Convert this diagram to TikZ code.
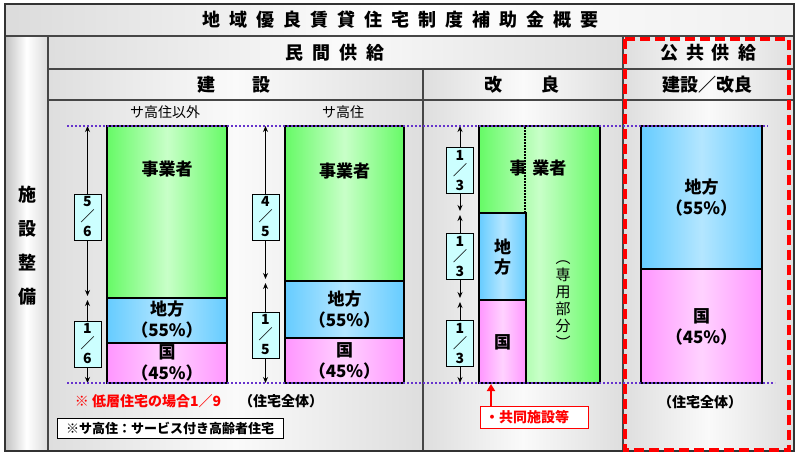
\documentclass[tikz,border=0pt]{standalone}
\usepackage{fontspec}
\setmainfont{Noto Sans CJK JP}
\usetikzlibrary{arrows.meta}
\definecolor{gEdge}{RGB}{102,250,102}
\definecolor{gMid}{RGB}{200,255,200}
\definecolor{bEdge}{RGB}{102,204,255}
\definecolor{bMid}{RGB}{180,230,255}
\definecolor{pEdge}{RGB}{255,150,255}
\definecolor{pMid}{RGB}{255,210,255}
\definecolor{fracFill}{RGB}{204,255,255}
\definecolor{dotPurple}{RGB}{102,51,204}
\definecolor{frameGray}{RGB}{70,70,70}
\definecolor{noteRed}{RGB}{255,0,0}
\newcommand\jfs[1]{\fontsize{#1}{#1}\selectfont}
\makeatletter
\newcommand\spreadtxt[2]{\def\sp@gap{#1}\@tfor\sp@c:=#2\do{\sp@c\hspace{\sp@gap}}\unskip}
\makeatother
\tikzset{
  gridline/.style={draw=frameGray, line width=1.3pt},
  frameline/.style={draw=black!80, line width=1.8pt},
  barbox/.style={draw=black, line width=1.8pt},
  greenbar/.style={left color=gEdge, right color=gEdge, middle color=gMid},
  bluebar/.style={left color=bEdge, right color=bEdge, middle color=bMid},
  pinkbar/.style={left color=pEdge, right color=pEdge, middle color=pMid},
  cellshade/.style={left color=black!13, right color=black!13, middle color=black!2},
  frac/.style={draw=black, line width=0.9pt, fill=fracFill, minimum width=27pt, minimum height=46pt, inner sep=0pt, align=center, font=\fontsize{14}{15}\selectfont\bfseries},
  dimarrow/.style={{Stealth[length=6pt,width=5pt]}-{Stealth[length=6pt,width=5pt]}, line width=1pt},
  pline/.style={dotPurple, line width=2pt, dash pattern=on 2pt off 2pt},
  hdr/.style={font=\jfs{18}\bfseries, inner sep=0pt},
  barlabel/.style={font=\fontsize{17}{21}\selectfont\bfseries, align=center, inner sep=0pt},
  sublabel/.style={font=\jfs{14}, inner sep=0pt},
}
\begin{document}
\begin{tikzpicture}[x=1pt,y=-1pt]
\useasboundingbox (0,0) rectangle (800,458);
\fill[white] (0,0) rectangle (800,458);
% backgrounds
\shade[left color=black!14, right color=black!6, middle color=white] (5,4) rectangle (794,36);
\shade[left color=black!24, right color=black!14, middle color=white] (5,36) rectangle (48,451);
\shade[cellshade] (48,36) rectangle (623,69);
\shade[cellshade] (623,36) rectangle (794,69);
\shade[cellshade] (48,69) rectangle (423,100);
\shade[cellshade] (423,69) rectangle (623,100);
\shade[cellshade] (623,69) rectangle (794,100);
\shade[cellshade] (48,100) rectangle (423,451);
\shade[cellshade] (423,100) rectangle (623,451);
\shade[cellshade] (623,100) rectangle (794,451);
% grid
\draw[gridline] (5,36) -- (794,36);
\draw[gridline] (48,69) -- (794,69);
\draw[gridline] (48,100) -- (794,100);
\draw[gridline] (48,36) -- (48,451);
\draw[gridline] (623,36) -- (623,451);
\draw[gridline] (423,69) -- (423,451);
\draw[frameline] (5,4) rectangle (794,451);
% header texts
\node[hdr] (title) at (400,20) {\spreadtxt{9pt}{地域優良賃貸住宅制度補助金概要}};
\node[hdr] (minkan) at (335,53) {\spreadtxt{9pt}{民間供給}};
\node[hdr] (kokyo) at (708,53) {\spreadtxt{8pt}{公共供給}};
\node[hdr] (kensetsu) at (234,85) {建\hspace{37pt}設};
\node[hdr] (kairyo) at (522,85) {改\hspace{39pt}良};
\node[hdr] (kk) at (707,85) {建設／改良};
\node[sublabel] (sub1) at (165,112) {サ高住以外};
\node[sublabel] (sub2) at (343,112) {サ高住};
\node[font=\fontsize{18}{34}\selectfont\bfseries, align=center, inner sep=0pt] (side) at (27,246) {施\\設\\整\\備};
% bar 1
\path[barbox, greenbar] (107,126) rectangle (227,298);
\path[barbox, bluebar] (107,298) rectangle (227,343);
\path[barbox, pinkbar] (107,343) rectangle (227,383);
\node[barlabel] (b1a) at (167,169) {事業者};
\node[barlabel] (b1b) at (167,320) {地方\\（55\%）};
\node[barlabel] (b1c) at (167,363) {国\\（45\%）};
% bar 2
\path[barbox, greenbar] (285,126) rectangle (404,281);
\path[barbox, bluebar] (285,281) rectangle (404,338);
\path[barbox, pinkbar] (285,338) rectangle (404,383);
\node[barlabel] (b2a) at (344.5,171) {事業者};
\node[barlabel] (b2b) at (344.5,309.5) {地方\\（55\%）};
\node[barlabel] (b2c) at (344.5,361) {国\\（45\%）};
% bar 3
\path[barbox, greenbar] (479,126) rectangle (600,383);
\path[barbox, bluebar] (479,213) rectangle (526,300);
\path[barbox, pinkbar] (479,300) rectangle (526,383);
\node[barlabel] (b3a) at (538,168) {事\hspace{6pt}業者};
\draw[black, line width=1.2pt, dash pattern=on 1.5pt off 1.5pt] (525,127) -- (525,213);
\node[barlabel, font=\fontsize{17}{20}\selectfont\bfseries] (b3b) at (502.5,257) {地\\方};
\node[barlabel] (b3c) at (502.5,342) {国};
\node[font=\fontsize{15}{17}\selectfont, align=center, inner sep=0pt] (b3d) at (563,305) {︵\\専\\用\\部\\分\\︶};
% bar 4
\path[barbox, bluebar] (641,126) rectangle (762,269);
\path[barbox, pinkbar] (641,269) rectangle (762,383);
\node[barlabel] (b4a) at (701.5,198) {地方\\（55\%）};
\node[barlabel] (b4b) at (701.5,327) {国\\（45\%）};
% dimension arrows
\coordinate (d1t) at (87.5,126); \coordinate (d1m) at (87.5,298); \coordinate (d1b) at (87.5,383);
\draw[dimarrow] (d1t) -- ([yshift=2pt]d1m);
\draw[dimarrow] ([yshift=-2pt]d1m) -- (d1b);
\node[frac] (f1a) at (87.5,217) {5\\／\\6};
\node[frac] (f1b) at (87.5,344) {1\\／\\6};
\coordinate (d2t) at (265.5,126); \coordinate (d2m) at (265.5,281); \coordinate (d2b) at (265.5,383);
\draw[dimarrow] (d2t) -- ([yshift=2pt]d2m);
\draw[dimarrow] ([yshift=-2pt]d2m) -- (d2b);
\node[frac] (f2a) at (265.5,217) {4\\／\\5};
\node[frac] (f2b) at (265.5,335) {1\\／\\5};
\coordinate (d3t) at (460,126); \coordinate (d3m) at (460,213); \coordinate (d3n) at (460,300); \coordinate (d3b) at (460,383);
\draw[dimarrow] (d3t) -- ([yshift=2pt]d3m);
\draw[dimarrow] ([yshift=-2pt]d3m) -- ([yshift=2pt]d3n);
\draw[dimarrow] ([yshift=-2pt]d3n) -- (d3b);
\node[frac] (f3a) at (460,170.5) {1\\／\\3};
\node[frac] (f3b) at (460,256.5) {1\\／\\3};
\node[frac] (f3c) at (460,343.5) {1\\／\\3};
% purple dotted lines
\draw[pline] (67,126) -- (768,126);
\draw[pline] (67,383) -- (775,383);
% notes
\node[font=\jfs{14}\bfseries, text=noteRed, inner sep=0pt] (lowrise) at (148,401) {※ 低層住宅の場合1／9};
\node[font=\jfs{14}\bfseries, inner sep=0pt] (whole1) at (281,401) {（住宅全体）};
\node[font=\jfs{14}\bfseries, inner sep=0pt] (whole2) at (700,402) {（住宅全体）};
\node[draw=black, line width=1pt, fill=white, minimum width=226pt, minimum height=20pt, inner sep=0pt, font=\jfs{13}\bfseries] (legend) at (170,428) {※サ高住：サービス付き高齢者住宅};
\node[draw=noteRed, line width=1pt, fill=white, minimum width=108pt, minimum height=22pt, inner sep=0pt] (kyodo) at (534,417) {};
\node[font=\jfs{14}\bfseries, text=noteRed, inner sep=0pt] (kyodotxt) at (527,417) {・共同施設等};
\coordinate (rtip) at (491,384);
\draw[noteRed, line width=2.5pt, -{Triangle[length=7pt,width=8pt]}] (kyodo.north -| rtip) -- (rtip);
% public supply red dashed frame
\draw[noteRed, line width=3.5pt, dash pattern=on 10pt off 5pt] (625,39) rectangle (789,450);
\end{tikzpicture}
\end{document}
